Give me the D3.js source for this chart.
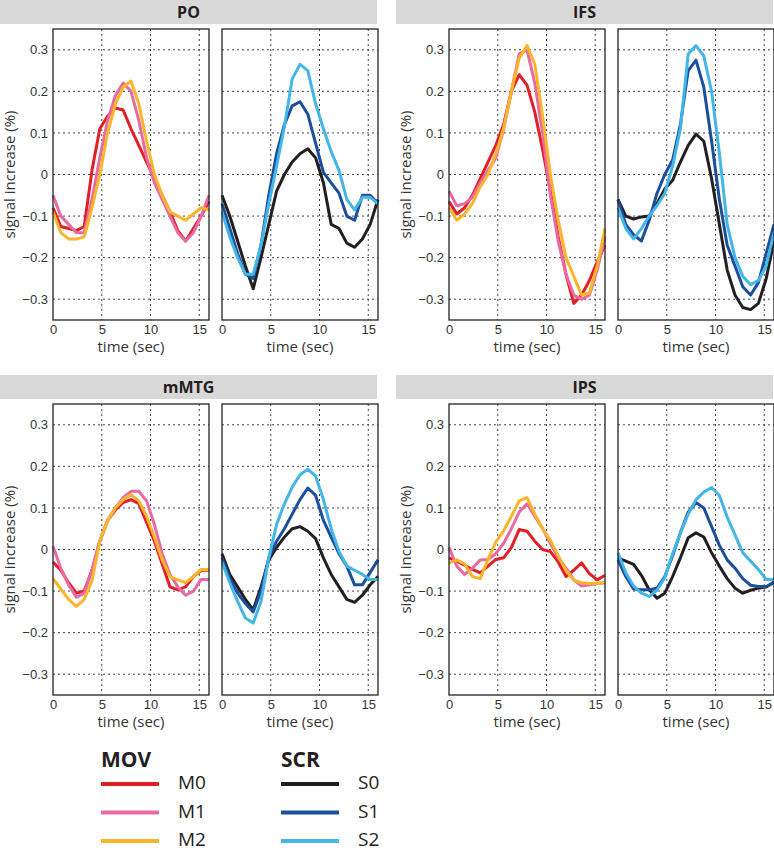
<!DOCTYPE html>
<html>
<head>
<meta charset="utf-8">
<script src="https://cdn.jsdelivr.net/npm/d3@7"></script>
<style>
  body { margin: 0; background: #fff; }
  svg { display: block; font-family: "Open Sans", "Noto Sans", sans-serif; }
</style>
</head>
<body>
<script>
// time axis (sec)
let times = [0, 0.8, 1.6, 2.4, 3.2, 4.0, 4.8, 5.6, 6.4, 7.2, 8.0, 8.8, 9.6, 10.4, 11.2, 12.0, 12.8, 13.6, 14.4, 15.2, 16.0];

let regions = ["PO", "IFS", "mMTG", "IPS"];
let movNames = ["M0", "M1", "M2"],
  scrNames = ["S0", "S1", "S2"];
let movColors = ["#e31f26", "#e96aa2", "#fbb52b"],
  scrColors = ["#231f20", "#1b4f9c", "#42b6e6"];

let yTicks = [-0.3, -0.2, -0.1, 0, 0.1, 0.2, 0.3],
  xTicks = [0, 5, 10, 15];

// PO
let poM0 = [-0.08, -0.125, -0.13, -0.135, -0.125, 0.01, 0.11, 0.14, 0.16, 0.155, 0.11, 0.07, 0.03, -0.01, -0.05, -0.09, -0.135, -0.16, -0.13, -0.1, -0.065];
let poM1 = [-0.05, -0.1, -0.12, -0.14, -0.14, -0.06, 0.04, 0.13, 0.19, 0.22, 0.2, 0.13, 0.04, -0.02, -0.06, -0.1, -0.14, -0.16, -0.14, -0.1, -0.05];
let poM2 = [-0.09, -0.14, -0.155, -0.155, -0.15, -0.08, 0.0, 0.1, 0.17, 0.21, 0.225, 0.17, 0.08, 0.0, -0.05, -0.09, -0.1, -0.11, -0.095, -0.08, -0.085];
let poS0 = [-0.05, -0.1, -0.16, -0.22, -0.275, -0.2, -0.12, -0.04, 0.0, 0.03, 0.05, 0.062, 0.04, -0.02, -0.12, -0.13, -0.165, -0.175, -0.155, -0.12, -0.06];
let poS1 = [-0.07, -0.13, -0.19, -0.24, -0.25, -0.17, -0.05, 0.05, 0.12, 0.165, 0.175, 0.145, 0.075, 0.005, -0.02, -0.045, -0.1, -0.11, -0.05, -0.05, -0.07];
let poS2 = [-0.09, -0.15, -0.2, -0.24, -0.24, -0.17, -0.07, 0.02, 0.115, 0.23, 0.265, 0.25, 0.17, 0.11, 0.055, 0.01, -0.06, -0.085, -0.055, -0.055, -0.07];

// IFS
let ifsM0 = [-0.065, -0.095, -0.08, -0.05, -0.01, 0.03, 0.07, 0.12, 0.2, 0.24, 0.215, 0.15, 0.06, -0.04, -0.15, -0.24, -0.31, -0.29, -0.255, -0.21, -0.17];
let ifsM1 = [-0.04, -0.075, -0.07, -0.055, -0.02, 0.01, 0.04, 0.11, 0.2, 0.29, 0.3, 0.22, 0.1, -0.05, -0.16, -0.24, -0.29, -0.3, -0.29, -0.23, -0.15];
let ifsM2 = [-0.08, -0.11, -0.095, -0.07, -0.03, 0.0, 0.05, 0.11, 0.2, 0.28, 0.31, 0.265, 0.14, 0.0, -0.11, -0.2, -0.245, -0.29, -0.285, -0.22, -0.13];
let ifsS0 = [-0.06, -0.1, -0.107, -0.102, -0.1, -0.07, -0.035, -0.014, 0.03, 0.07, 0.097, 0.08, -0.01, -0.12, -0.23, -0.29, -0.32, -0.325, -0.31, -0.25, -0.16];
let ifsS1 = [-0.06, -0.12, -0.145, -0.16, -0.11, -0.045, 0.0, 0.035, 0.12, 0.25, 0.275, 0.21, 0.08, -0.06, -0.17, -0.22, -0.27, -0.29, -0.26, -0.19, -0.12];
let ifsS2 = [-0.08, -0.13, -0.155, -0.13, -0.1, -0.075, -0.045, 0.02, 0.11, 0.29, 0.31, 0.285, 0.2, 0.05, -0.12, -0.2, -0.245, -0.265, -0.255, -0.22, -0.14];

// mMTG
let mtgM0 = [-0.03, -0.05, -0.08, -0.105, -0.1, -0.05, 0.02, 0.07, 0.095, 0.113, 0.12, 0.11, 0.065, 0.02, -0.035, -0.09, -0.097, -0.09, -0.065, -0.05, -0.05];
let mtgM1 = [0.008, -0.045, -0.085, -0.115, -0.105, -0.05, 0.02, 0.07, 0.1, 0.125, 0.14, 0.14, 0.117, 0.06, -0.01, -0.06, -0.09, -0.11, -0.1, -0.072, -0.072];
let mtgM2 = [-0.07, -0.095, -0.12, -0.137, -0.12, -0.075, 0.02, 0.07, 0.1, 0.12, 0.132, 0.117, 0.08, 0.03, -0.025, -0.065, -0.073, -0.08, -0.065, -0.048, -0.048];
let mtgS0 = [-0.01, -0.06, -0.09, -0.12, -0.145, -0.09, -0.025, 0.005, 0.03, 0.05, 0.055, 0.044, 0.026, -0.02, -0.06, -0.09, -0.12, -0.127, -0.11, -0.085, -0.065];
let mtgS1 = [-0.02, -0.07, -0.105, -0.13, -0.15, -0.1, -0.02, 0.02, 0.05, 0.085, 0.12, 0.148, 0.13, 0.07, 0.03, -0.01, -0.04, -0.085, -0.085, -0.055, -0.025];
let mtgS2 = [-0.03, -0.08, -0.125, -0.165, -0.177, -0.125, -0.02, 0.06, 0.11, 0.15, 0.18, 0.193, 0.177, 0.12, 0.05, -0.005, -0.04, -0.05, -0.06, -0.072, -0.072];

// IPS
let ipsM0 = [-0.02, -0.028, -0.038, -0.048, -0.056, -0.04, -0.024, -0.02, 0.005, 0.048, 0.044, 0.02, 0.0, -0.005, -0.03, -0.065, -0.05, -0.032, -0.058, -0.073, -0.062];
let ipsM1 = [0.005, -0.04, -0.06, -0.045, -0.025, -0.024, -0.01, 0.015, 0.05, 0.09, 0.11, 0.08, 0.05, 0.015, -0.02, -0.045, -0.073, -0.088, -0.085, -0.082, -0.08];
let ipsM2 = [-0.032, -0.025, -0.035, -0.065, -0.07, -0.024, 0.018, 0.045, 0.08, 0.117, 0.125, 0.085, 0.05, 0.022, -0.015, -0.05, -0.074, -0.08, -0.082, -0.081, -0.08];
let ipsS0 = [-0.02, -0.028, -0.036, -0.062, -0.097, -0.117, -0.105, -0.065, -0.02, 0.028, 0.04, 0.03, -0.008, -0.04, -0.07, -0.093, -0.105, -0.098, -0.093, -0.09, -0.078];
let ipsS1 = [-0.025, -0.065, -0.095, -0.097, -0.097, -0.093, -0.065, -0.015, 0.04, 0.09, 0.113, 0.1, 0.055, 0.01, -0.025, -0.045, -0.07, -0.086, -0.089, -0.089, -0.08];
let ipsS2 = [-0.008, -0.056, -0.088, -0.105, -0.113, -0.098, -0.068, -0.01, 0.04, 0.085, 0.12, 0.138, 0.149, 0.13, 0.078, 0.035, -0.008, -0.028, -0.048, -0.072, -0.072];

let movData = [[poM0, poM1, poM2], [ifsM0, ifsM1, ifsM2], [mtgM0, mtgM1, mtgM2], [ipsM0, ipsM1, ipsM2]];
let scrData = [[poS0, poS1, poS2], [ifsS0, ifsS1, ifsS2], [mtgS0, mtgS1, mtgS2], [ipsS0, ipsS1, ipsS2]];

let W = 774, H = 853;
let panelLeft = [0, 396],
  panelTop = [0, 375],
  headerW = 377,
  headerH = 24,
  plotW = 156,
  plotH = 291;

let svg = d3.select("body").append("svg").attr("width", W).attr("height", H);

let x = d3.scaleLinear().domain([0, 16]).range([0, plotW]);
let y = d3.scaleLinear().domain([-0.35, 0.35]).range([plotH, 0]);

let line = d3
  .line()
  .x((d, i) => x(times[i]))
  .y((d) => y(d));

let fmt = (d) => (d === 0 ? "0" : d3.format(".1f")(d));

function drawPlot(g, series, colors, showY) {
  // grid
  g.append("g")
    .selectAll("line")
    .data(xTicks.filter((t) => t > 0))
    .enter()
    .append("line")
    .attr("x1", (d) => x(d))
    .attr("x2", (d) => x(d))
    .attr("y1", 0)
    .attr("y2", plotH)
    .attr("stroke", "#444")
    .attr("stroke-dasharray", "2,3");
  g.append("g")
    .selectAll("line")
    .data(yTicks)
    .enter()
    .append("line")
    .attr("x1", 0)
    .attr("x2", plotW)
    .attr("y1", (d) => y(d))
    .attr("y2", (d) => y(d))
    .attr("stroke", "#444")
    .attr("stroke-dasharray", "2,3");

  // axes
  let xa = g
    .append("g")
    .attr("transform", "translate(0," + plotH + ")")
    .call(d3.axisBottom(x).tickValues(xTicks).tickSize(0).tickPadding(5));
  xa.select(".domain").remove();
  xa.selectAll("text").attr("font-size", 13).attr("fill", "#333").attr("font-family", null);

  if (showY) {
    let ya = g.append("g").call(d3.axisLeft(y).tickValues(yTicks).tickFormat(fmt).tickSize(0).tickPadding(5));
    ya.select(".domain").remove();
    ya.selectAll("text").attr("font-size", 13).attr("fill", "#333").attr("font-family", null);
  }

  g.append("text")
    .attr("x", plotW / 2)
    .attr("y", plotH + 32)
    .attr("text-anchor", "middle")
    .attr("font-size", 15)
    .attr("fill", "#333")
    .text("time (sec)");

  // curves
  g.append("g")
    .selectAll("path")
    .data(series)
    .enter()
    .append("path")
    .attr("d", line)
    .attr("fill", "none")
    .attr("stroke", (d, i) => colors[i])
    .attr("stroke-width", 3)
    .attr("stroke-linejoin", "round");

  // frame
  g.append("rect")
    .attr("width", plotW)
    .attr("height", plotH)
    .attr("fill", "none")
    .attr("stroke", "#222")
    .attr("stroke-width", 1.3);
}

regions.forEach((name, k) => {
  let px = panelLeft[k % 2],
    py = panelTop[Math.floor(k / 2)];
  let panel = svg.append("g").attr("transform", "translate(" + px + "," + py + ")");

  panel.append("rect").attr("width", headerW).attr("height", headerH).attr("fill", "#d8d8d8");
  panel
    .append("text")
    .attr("x", headerW / 2)
    .attr("y", headerH / 2 + 6)
    .attr("text-anchor", "middle")
    .attr("font-size", 16)
    .attr("font-weight", "bold")
    .attr("fill", "#231f20")
    .text(name);

  let top = 29,
    movLeft = 53,
    scrLeft = 222;

  panel
    .append("text")
    .attr("transform", "translate(15," + (top + plotH / 2) + ") rotate(-90)")
    .attr("text-anchor", "middle")
    .attr("font-size", 15)
    .attr("fill", "#333")
    .text("signal increase (%)");

  drawPlot(panel.append("g").attr("transform", "translate(" + movLeft + "," + top + ")"), movData[k], movColors, true);
  drawPlot(panel.append("g").attr("transform", "translate(" + scrLeft + "," + top + ")"), scrData[k], scrColors, false);
});

// legend
let legends = [
  { title: "MOV", names: movNames, colors: movColors, x: 101 },
  { title: "SCR", names: scrNames, colors: scrColors, x: 281 }
];
legends.forEach((lg) => {
  let g = svg.append("g").attr("transform", "translate(" + lg.x + ",0)");
  g.append("text")
    .attr("x", 0)
    .attr("y", 767)
    .attr("font-size", 21)
    .attr("font-weight", "bold")
    .attr("fill", "#231f20")
    .text(lg.title);
  lg.names.forEach((n, i) => {
    let ly = 784 + i * 28.5;
    g.append("line")
      .attr("x1", 0)
      .attr("x2", 58)
      .attr("y1", ly)
      .attr("y2", ly)
      .attr("stroke", lg.colors[i])
      .attr("stroke-width", 4);
    g.append("text")
      .attr("x", 77)
      .attr("y", ly + 5)
      .attr("font-size", 19)
      .attr("fill", "#231f20")
      .text(n);
  });
});
</script>
</body>
</html>
